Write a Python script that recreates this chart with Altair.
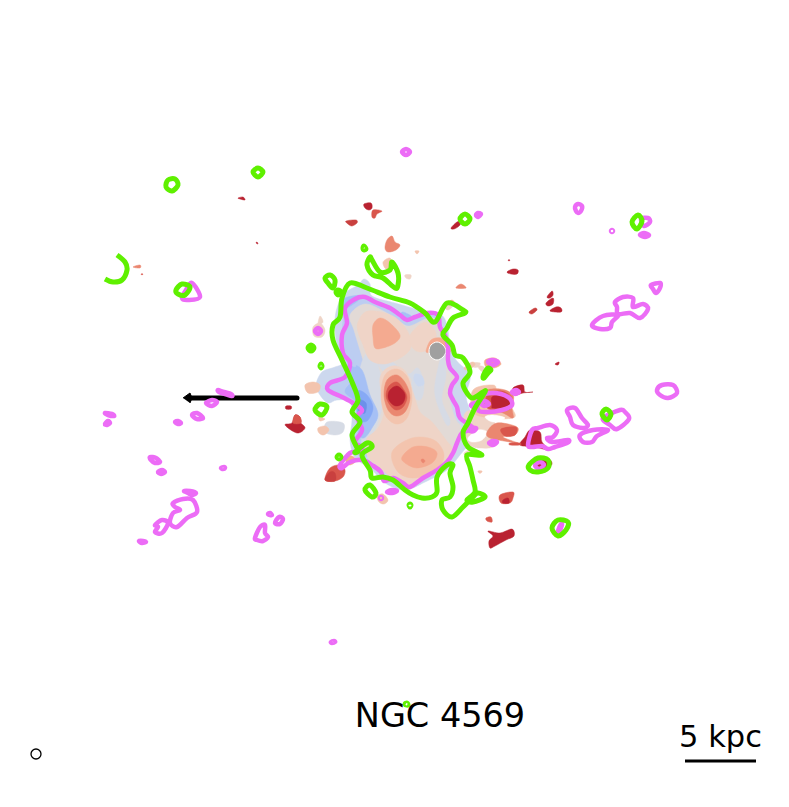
import altair as alt
import pandas as pd

# Filled contour levels (image pixel coordinates)
C_BLUE0="#ccd8ee"; C_BLUE1="#bccdf1"; C_BLUE2="#a6c0f5"; C_BLUE3="#86a9f5"; C_BLUE4="#6c90ea"
C_GREY="#e2dad6"; C_GREYB="#d6dbe5"; C_P0="#efd4c7"; C_P1="#f3c4ae"; C_P2="#f4aa90"; C_R1="#ea8770"; C_R2="#d9564c"; C_R3="#b92231"; C_R4="#c9403f"; C_W="#ffffff"

outer_blue=[(338,305),(345,293),(358,285),(364,279),(370,284),(372,296),(395,303),(420,310),(440,314),(447,325),(450,345),(456,360),(470,375),(466,395),(470,410),(478,425),(472,440),(460,455),(447,470),(425,482),(405,490),(385,483),(370,468),(355,458),(350,440),(352,420),(350,402),(337,400),(328,403),(320,395),(316,385),(322,372),(335,367),(342,362),(336,340),(335,320)]
mid_blue=[(345,308),(355,298),(365,297),(385,306),(400,316),(407,322),(425,315),(438,316),(440,327),(430,330),(405,332),(385,318),(368,322),(362,345),(372,370),(382,395),(385,425),(375,448),(362,458),(352,440),(358,420),(355,402),(340,395),(330,390),(332,382),(345,376),(348,367),(343,353),(342,335)]
grey_body=[(350,315),(365,304),(385,312),(400,322),(410,326),(428,318),(437,320),(440,330),(445,345),(446,362),(449,372),(455,378),(449,392),(451,405),(456,420),(462,428),(458,440),(452,452),(440,465),(422,476),(408,484),(392,476),(378,466),(368,458),(368,440),(376,420),(376,395),(368,375),(360,350),(354,330)]
greyb_patches1=[(378,362),(392,362),(408,374),(418,368),(424,385),(420,400),(407,392),(412,380),(398,368),(385,372)]
greyb_patches2=[(444,352),(446,375),(442,400),(450,420),(446,424),(435,395),(438,368)]
greyb_patches3=[(370,350),(380,372),(383,400),(378,422),(370,438),(362,445),(363,420),(365,395),(360,370)]
blue_left1=[(350,365),(362,370),(370,395),(378,414),(372,428),(364,438),(358,432),(358,405),(345,392),(352,380)]
blue_left2=[(357,392),(367,395),(373,408),(367,421),(358,418)]
blue_left3=[(358,400),(366,403),(365,413),(359,411)]
blue_top=[(402,312),(408,314),(412,317),(406,320),(401,317)]
blue_top2=[(342,300),(352,296),(362,296),(355,303),(345,308)]
blue_left4=[(346,318),(352,330),(352,352),(356,366),(349,362),(345,340)]
blue_mid5=[(415,374),(422,376),(424,384),(418,386),(414,380)]
peach_top=[(358,322),(368,311),(393,316),(408,332),(411,347),(402,357),(385,364),(370,360),(363,345),(358,332)]
orange_top=[(373,325),(380,318),(390,323),(400,335),(395,343),(383,348),(375,348),(373,337)]
peach_spine=[(380,378),(392,366),(406,372),(414,395),(420,412),(432,422),(446,440),(452,450),(442,465),(425,478),(408,486),(392,478),(378,466),(368,456),(366,440),(378,428),(384,410)]
peach_right=[(410,335),(425,322),(436,333),(432,347),(420,352),(412,347)]
peach2_bottom=[(392,452),(412,438),(434,440),(444,455),(436,470),(415,478),(398,472)]
orange_bottom=[(402,457),(413,447),(428,447),(437,453),(432,463),(417,468),(405,463)]
dot_bottom=[(421,460),(423,459),(425,461),(423,463)]
core0=[(385,375),(397,369),(408,378),(412,398),(407,418),(396,424),(385,415),(381,395)]
core1=[(387,380),(397,375),(406,384),(410,398),(405,412),(396,416),(388,410),(384,395)]
core2=[(389,386),(397,382),(404,390),(407,398),(403,407),(396,410),(390,405),(386,396)]
core3=[(390,390),(397,386),(404,392),(405,398),(402,404),(396,406),(391,403),(388,397)]
halo=[(426,351),(431,340),(441,338),(449,345),(450,352),(441,344),(433,344),(429,352)]

lobe_peach=[(305,385),(313,382),(320,385),(318,392),(308,393)]
blob_l1=[(319,417),(325,419),(320,421)]
blob_l2=[(327,422),(343,423),(343,432),(335,435),(325,432)]
blob_l3=[(318,428),(325,426),(329,430),(324,435),(319,433)]
tiny_l=[(313,327),(320,323),(325,330),(322,337),(314,336)]
pa1=[(485,360),(495,358),(501,364),(494,368),(486,367)]
pa2=[(472,363),(480,363),(478,367),(473,367)]
pa3=[(478,366),(484,367),(484,372),(480,370)]
ra_peach=[(473,390),(493,385),(498,392),(513,410),(513,418),(490,418),(473,412)]
ra_orange=[(483,392),(500,389),(513,395),(512,408),(513,418),(503,413),(487,408)]
ra_red=[(488,394),(502,391),(512,398),(510,409),(494,410),(486,406)]
ra_dark=[(492,397),(502,395),(510,400),(507,407),(493,408),(492,405)]
ra_dark2=[(513,388),(523,385),(525,392),(533,392),(523,393),(515,395)]
rb_orange=[(497,423),(517,427),(515,435),(503,437),(518,443),(510,442),(490,438),(487,432)]
rb_red=[(501,429),(516,427),(515,435),(505,436)]
rb_light=[(466,412),(485,412),(495,424),(495,445),(480,448),(468,444),(464,430)]
hole1=[(485,417),(493,415),(505,418),(493,422)]
hole2=[(468,438),(478,430),(487,432),(482,440),(472,442)]
rc_dark=[(530,430),(540,432),(542,442),(549,450),(535,447),(520,445),(525,437)]
rc_line=[(510,443),(520,443),(520,445),(510,445)]
rd_dark=[(536,461),(547,458),(552,464),(544,470),(537,468)]
re=[(500,495),(513,492),(513,498),(510,503),(501,503)]
re_d=[(503,500),(508,498),(509,503),(503,503)]
rf=[(486,518),(491,517),(492,522),(487,521)]
rg=[(488,531),(500,533),(512,529),(514,536),(506,540),(495,546),(490,548),(489,541),(493,536)]
pale1=[(478,471),(482,471),(481,473),(479,473)]
t1=[(364,204),(371,203),(372,208),(369,210),(365,208)]
t2=[(373,210),(382,211),(377,214),(375,218),(372,217)]
t3=[(346,221),(356,220),(357,223),(352,226),(348,224)]
t4=[(387,240),(392,236),(395,242),(400,245),(396,250),(388,252),(385,248)]
t5=[(383,262),(390,258),(392,266),(386,269)]
t6=[(405,275),(411,275),(410,279),(406,278)]
t7=[(415,251),(419,251),(417,254)]
t8=[(456,288),(461,284),(466,288)]
t9=[(451,228),(457,222),(462,221),(459,226),(454,229)]
t10=[(507,272),(513,269),(518,270),(517,274),(511,274)]
t11=[(508,260),(510,260),(509,261)]
t12=[(238,198),(243,197),(245,200),(240,199)]
t13=[(256,243),(257,242),(258,244)]
t14=[(133,267),(140,265),(140,268)]
t15=[(141,274),(143,274),(142,275)]
t16=[(286,406),(291,406),(291,409),(286,409)]
t17=[(295,415),(300,417),(300,422),(305,428),(297,433),(285,425),(292,423)]
t17b=[(295,415),(300,417),(301,423),(293,423)]
t18=[(325,480),(330,468),(340,465),(345,470),(343,477),(335,481)]
t18b=[(325,480),(330,472),(335,473),(335,481)]
t18c=[(345,458),(352,456),(356,461),(349,465)]
t19=[(555,364),(559,362),(558,365)]
t20=[(547,297),(552,291),(553,295),(550,298)]
t21=[(546,303),(553,298),(553,304),(548,306)]
t22=[(550,311),(556,307),(561,308),(561,312)]
t23=[(529,312),(535,308),(537,310),(532,314)]
t24=[(446,304),(452,300),(455,304),(450,305)]
t25=[(377,496),(383,494),(388,500),(384,504),(379,502)]
pale2=[(318,325),(320,316),(323,322)]
pale3=[(445,307),(452,302),(453,306),(448,310)]
pale4=[(464,368),(472,362),(475,365),(468,370)]
peach_sm=[(464,453),(470,450),(472,455),(466,456)]

filled=[(C_BLUE0,outer_blue),(C_BLUE1,mid_blue),(C_GREY,grey_body),(C_GREYB,greyb_patches1),(C_GREYB,greyb_patches2),(C_GREYB,greyb_patches3),
 (C_BLUE2,blue_left1),(C_BLUE3,blue_left2),(C_BLUE4,blue_left3),(C_BLUE2,blue_top),(C_BLUE2,blue_top2),(C_BLUE1,blue_left4),(C_BLUE0,blue_mid5),
 (C_P0,peach_top),(C_P2,orange_top),(C_P0,peach_right),(C_P0,peach_spine),(C_P1,peach2_bottom),(C_P2,orange_bottom),(C_R1,dot_bottom),
 (C_P1,core0),(C_R1,core1),(C_R2,core2),(C_R3,core3),(C_P2,halo),
 (C_P1,lobe_peach),(C_GREYB,blob_l2),(C_P1,blob_l1),(C_P1,blob_l3),(C_P0,tiny_l),(C_P2,pa1),(C_P0,pa2),(C_P0,pa3),
 (C_P0,rb_light),(C_P1,ra_peach),(C_R1,ra_orange),(C_R2,ra_red),(C_R3,ra_dark),(C_R3,ra_dark2),(C_W,hole1),(C_W,hole2),(C_R1,rb_orange),(C_R2,rb_red),(C_R3,rc_dark),(C_R2,rc_line),(C_R3,rd_dark),
 (C_R2,re),(C_R3,re_d),(C_R2,rf),(C_R3,rg),(C_P1,pale1),(C_R3,t1),(C_R2,t2),(C_R4,t3),(C_R1,t4),(C_P1,t5),(C_P0,t6),(C_P1,t7),(C_R1,t8),(C_R3,t9),(C_R3,t10),(C_R3,t11),
 (C_R3,t12),(C_R3,t13),(C_R1,t14),(C_R2,t15),(C_R3,t16),(C_R3,t17),(C_R2,t17b),(C_R2,t18),(C_R4,t18b),(C_P2,t18c),(C_R3,t19),(C_R3,t20),(C_R3,t21),(C_R3,t22),(C_R4,t23),(C_P2,t24),(C_P1,t25),(C_P0,pale2),(C_P0,pale3),(C_P1,pale4),(C_P0,peach_sm)]

# Grey disc
disc=[(429,351),(431,345),(437,342),(443,345),(446,351),(443,357),(437,360),(431,357)]
arrow_head=[(183,398),(190,393),(192,398),(190,403)]

# Magenta contours (closed)
m_main=[(345,308),(355,299),(365,297),(375,302),(390,308),(400,315),(407,320),(415,317),(428,313),(438,315),(440,327),(445,335),(448,347),(448,360),(450,368),(457,377),(452,385),(450,393),(453,400),(457,407),(460,418),(473,428),(462,433),(457,443),(453,453),(447,462),(437,470),(423,478),(410,487),(403,483),(393,478),(384,481),(381,472),(372,465),(363,460),(350,462),(342,468),(340,465),(350,453),(360,452),(362,447),(355,442),(362,430),(357,417),(362,410),(353,403),(342,397),(328,390),(330,383),(345,377),(350,363),(343,353),(342,335),(347,323)]
m_a=[(218,390),(224,392),(231,394),(232,396),(225,394),(219,392)]
m_b=[(206,403),(212,400),(217,402),(212,406)]
m_c=[(192,415),(197,413),(203,418),(197,419)]
m_d=[(175,422),(178,421),(181,423),(178,424)]
m_e=[(105,413),(112,414),(114,416),(108,415)]
m_f=[(105,424),(108,421),(110,423),(107,425)]
m_g=[(150,457),(156,458),(160,462),(155,463),(151,460)]
m_h=[(158,472),(162,470),(165,472),(161,474)]
m_i=[(221,468),(224,467),(225,468),(223,469)]
m_j=[(184,491),(190,491),(196,493),(192,495),(188,493)]
m_k=[(173,503),(183,499),(193,500),(197,512),(187,518),(177,527),(170,523),(173,513),(180,510),(175,507)]
m_l=[(155,525),(162,520),(168,523),(162,533),(155,532),(158,527)]
m_m=[(139,541),(143,541),(146,542),(142,543)]
m_n=[(268,514),(270,513),(272,515),(270,515)]
m_o=[(275,523),(279,517),(283,519),(280,524)]
m_p=[(255,538),(260,527),(265,525),(265,533),(268,537),(263,541),(257,540)]
m_q=[(331,642),(334,641),(335,642),(332,643)]
m_r=[(402,152),(406,149),(410,152),(406,155)]
m_s=[(476,215),(478,213),(481,214),(478,217)]
m_t=[(575,207),(578,204),(582,206),(581,211),(578,213),(576,211)]
m_u=[(641,219),(648,218),(650,222),(644,226)]
m_v=[(640,235),(644,233),(649,235),(645,237)]
m_w=[(611,231),(612,230),(613,231),(612,232)]
m_x=[(651,285),(660,283),(660,288),(656,293),(653,289)]
m_y=[(615,302),(623,297),(633,298),(633,307),(643,304),(648,309),(640,318),(630,313),(618,314),(617,307)]
m_z=[(618,315),(603,316),(592,325),(600,329),(610,328),(612,322)]
m_aa=[(657,390),(662,385),(673,385),(677,393),(668,398),(660,395)]
m_ab=[(488,362),(492,360),(498,362),(493,365)]
m_ac=[(480,397),(493,393),(508,397),(512,405),(502,410),(488,412),(478,410)]
m_ad=[(481,403),(485,401),(489,404),(484,406)]
m_ae=[(512,392),(516,390),(519,392),(515,394)]
m_af=[(471,405),(475,403),(477,405),(473,407)]
m_ag=[(489,443),(493,441),(497,442),(493,445)]
m_ah=[(528,445),(532,430),(538,428),(550,425),(557,430),(553,437),(547,438),(552,442),(568,440),(567,443),(555,447),(548,449),(542,446),(532,447)]
m_ai=[(567,410),(575,408),(582,418),(588,425),(583,428),(573,425),(570,417)]
m_aj=[(580,435),(593,430),(608,430),(597,436),(592,442),(583,442)]
m_ak=[(603,418),(620,410),(625,412),(629,419),(617,429),(610,425)]
m_al=[(535,465),(540,462),(544,465),(539,469)]
m_am=[(558,531),(561,524),(562,525),(559,532)]
m_an=[(387,492),(392,490),(397,491),(392,493)]
m_ao=[(380,498),(381,497),(382,498),(381,499)]
m_ap=[(315,331),(318,328),(321,331),(318,334)]
m_aq=[(470,428),(476,428),(474,431),(470,431)]
m_ar=[(192,283),(200,297),(188,300),(182,298),(186,290)]
magenta=[m_main,m_a,m_b,m_c,m_d,m_e,m_f,m_g,m_h,m_i,m_j,m_k,m_l,m_m,m_n,m_o,m_p,m_q,m_r,m_s,m_t,m_u,m_v,m_w,m_x,m_y,m_z,m_aa,m_ab,m_ac,m_ad,m_ae,m_af,m_ag,m_ah,m_ai,m_aj,m_ak,m_al,m_am,m_an,m_ao,m_ap,m_aq,m_ar]

# Green contours (closed)
g_main=[(350,283),(367,288),(390,297),(410,303),(425,313),(435,322),(447,303),(463,310),(465,313),(453,318),(447,328),(443,335),(452,345),(455,355),(463,358),(470,372),(463,383),(467,393),(473,398),(483,392),(485,392),(475,408),(468,423),(463,433),(468,447),(482,455),(467,455),(470,467),(473,480),(475,492),(467,500),(473,502),(485,497),(478,493),(473,497),(463,507),(452,517),(443,510),(442,500),(450,497),(453,487),(450,473),(453,465),(447,465),(437,477),(437,492),(432,497),(422,498),(413,495),(405,490),(393,480),(383,477),(372,478),(370,470),(362,455),(372,447),(367,443),(355,452),(358,450),(352,435),(360,422),(352,412),(358,400),(352,382),(342,360),(333,340),(333,325),(340,317),(342,298)]
g_loop=[(370,257),(367,265),(373,275),(383,278),(395,288),(398,285),(398,273),(392,262),(390,270),(380,272),(372,260)]
g_a=[(325,278),(330,275),(335,280),(333,288),(328,283)]
g_b=[(336,292),(338,290),(341,292),(338,295)]
g_c=[(308,348),(311,345),(314,348),(311,351)]
g_d=[(320,366),(321,364),(322,366),(321,368)]
g_e=[(315,410),(320,404),(327,407),(322,415)]
g_f=[(337,457),(339,455),(341,457),(339,459)]
g_g=[(363,248),(364,246),(366,249),(364,250)]
g_h=[(365,490),(370,485),(376,493),(372,497)]
g_i=[(409,505),(410,504),(411,505),(410,507)]
g_j=[(405,704),(407,703),(408,705),(406,705)]
g_k=[(460,219),(465,214),(470,219),(465,224)]
g_l=[(632,222),(638,215),(642,221),(637,229)]
g_m=[(602,414),(606,409),(611,414),(607,420)]
g_n=[(529,465),(538,458),(548,460),(548,468),(538,472),(530,470)]
g_o=[(552,528),(558,520),(568,522),(566,530),(558,536)]
g_p=[(485,372),(488,368),(491,370),(488,373),(484,378),(483,377)]
g_q=[(253,172),(258,168),(263,172),(258,177)]
g_r=[(176,290),(182,284),(190,287),(185,295),(178,294)]
g_s=[(168,180),(175,179),(178,185),(172,191),(166,187)]
greens=[g_main,g_loop,g_a,g_b,g_c,g_d,g_e,g_f,g_g,g_h,g_i,g_j,g_k,g_l,g_m,g_n,g_o,g_p,g_q,g_r,g_s]
# Green open arc
arc_a=[(117,255),(125,262),(127,270),(122,280),(113,282),(105,279)]
arcs=[arc_a]

shaft_x=[297,190]; shaft_y=[398,398]
bar_x=[685,756]; bar_y=[761,761]
beam_x=[36]; beam_y=[754]
labels=["NGC 4569","5 kpc"]; label_x=[440,720.5]; label_y=[727,747]; label_size=[33.5,30.5]

def rows(shapes):
    out=[]
    for i,s in enumerate(shapes):
        for j,(x,y) in enumerate(s):
            out.append({"id":i,"seq":j,"x":x,"y":y})
    return pd.DataFrame(out)

X=alt.X("x:Q",scale=alt.Scale(domain=[8,781],nice=False,zero=False),axis=None)
Y=alt.Y("y:Q",scale=alt.Scale(domain=[799,8],nice=False,zero=False),axis=None)

layers=[]
for i,(col,pts) in enumerate(filled):
    layers.append(alt.Chart(rows([pts])).mark_line(interpolate="cardinal-closed",fill=col,stroke=col,strokeWidth=0.5).encode(X,Y,order="seq:Q"))
layers.append(alt.Chart(rows([disc])).mark_line(interpolate="cardinal-closed",fill="#a0a0a0",stroke="white",strokeWidth=1).encode(X,Y,order="seq:Q"))
layers.append(alt.Chart(pd.DataFrame({"x":shaft_x,"y":shaft_y,"seq":[0,1]})).mark_line(stroke="black",strokeWidth=5,strokeCap="round").encode(X,Y,order="seq:Q"))
layers.append(alt.Chart(rows([arrow_head])).mark_line(fill="black",stroke="black",strokeWidth=1).encode(X,Y,order="seq:Q"))
layers.append(alt.Chart(rows(magenta)).mark_line(interpolate="cardinal-closed",stroke="#ec6cf6",strokeWidth=4.5).encode(X,Y,detail="id:N",order="seq:Q"))
layers.append(alt.Chart(rows(greens)).mark_line(interpolate="cardinal-closed",stroke="#5ff000",strokeWidth=5).encode(X,Y,detail="id:N",order="seq:Q"))
layers.append(alt.Chart(rows(arcs)).mark_line(interpolate="cardinal",stroke="#5ff000",strokeWidth=5).encode(X,Y,detail="id:N",order="seq:Q"))
layers.append(alt.Chart(pd.DataFrame({"x":bar_x,"y":bar_y,"seq":[0,1]})).mark_line(stroke="black",strokeWidth=3).encode(X,Y,order="seq:Q"))
layers.append(alt.Chart(pd.DataFrame({"x":beam_x,"y":beam_y})).mark_point(shape="circle",size=100,stroke="black",strokeWidth=1.3,fill="white",filled=False,opacity=1).encode(X,Y))
for t,x,y,s in zip(labels,label_x,label_y,label_size):
    layers.append(alt.Chart(pd.DataFrame({"x":[x],"y":[y],"t":[t]})).mark_text(font="DejaVu Sans",fontSize=s,color="black",align="center",baseline="alphabetic").encode(X,Y,text="t:N"))

chart=alt.layer(*layers).properties(width=773,height=791,padding=0,autosize=alt.AutoSizeParams(type="none")).configure_view(stroke=None)
chart.save("out.html",embed_options={"renderer":"svg","actions":False})
